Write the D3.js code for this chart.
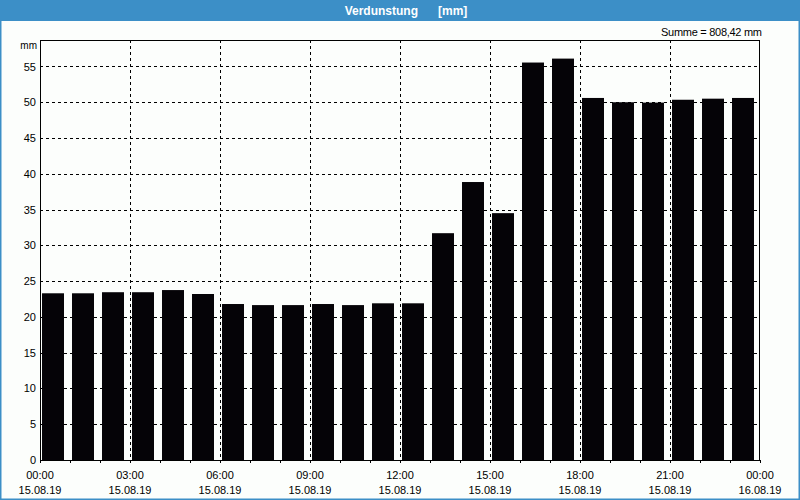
<!DOCTYPE html>
<html><head><meta charset="utf-8">
<script src="https://cdn.jsdelivr.net/npm/d3@7"></script>
<style>
html,body{margin:0;padding:0;background:#fff;}
svg{display:block;}
text{font-family:"Liberation Sans",Arial,sans-serif;}
</style></head>
<body>
<script>
const title = "Verdunstung      [mm]";
const unitLabel = "mm";
const sumLabel = "Summe = 808,42 mm";
const hours = d3.range(24);
const values = [23.3,23.3,23.45,23.45,23.75,23.2,21.8,21.65,21.65,21.8,21.65,21.9,21.9,
                31.7,38.85,34.5,55.55,56.1,50.6,50.0,49.95,50.35,50.5,50.6];
const yTicks = [0,5,10,15,20,25,30,35,40,45,50,55];
const yMax = 58.7;
const labelHours = [0,3,6,9,12,15,18,21,24];

const W=800,H=500;
const m={l:40,r:40,t:40,b:40};
const svg=d3.select("body").append("svg").attr("width",W).attr("height",H);
svg.append("rect").attr("width",W).attr("height",H).attr("fill","#fcfefc");
// frame
svg.append("rect").attr("x",0.75).attr("y",0).attr("width",W-1.5).attr("height",H-0.75)
  .attr("fill","none").attr("stroke","#3c8fc7").attr("stroke-width",1.5);
svg.append("rect").attr("x",0).attr("y",0).attr("width",W).attr("height",21).attr("fill","#3c8fc7");
svg.append("text").attr("x",W/2+6).attr("y",15).attr("text-anchor","middle")
  .attr("fill","#fff").attr("font-weight","bold").attr("font-size",12).attr("xml:space","preserve").text(title);

const t0=new Date(2019,7,15,0,0);
const hd=h=>new Date(t0.getTime()+h*3600000);
const x=d3.scaleTime().domain([hd(0),hd(24)]).range([m.l,W-m.r]);
const y=d3.scaleLinear().domain([0,yMax]).range([H-m.b,m.t]);

const g=svg.append("g");
// grid
g.selectAll(".hg").data(yTicks.filter(v=>v>0)).join("line")
  .attr("x1",m.l).attr("x2",W-m.r).attr("y1",d=>Math.round(y(d))+0.5).attr("y2",d=>Math.round(y(d))+0.5)
  .attr("stroke","#000").attr("stroke-dasharray","3,3");
g.selectAll(".vg").data(labelHours.slice(1,-1)).join("line")
  .attr("y1",m.t).attr("y2",H-m.b).attr("x1",d=>Math.round(x(hd(d)))+0.5).attr("x2",d=>Math.round(x(hd(d)))+0.5)
  .attr("stroke","#000").attr("stroke-dasharray","3,3");

// bars
const step=x(hd(1))-x(hd(0));
g.selectAll(".bar").data(values).join("rect")
  .attr("x",(d,i)=>x(hd(hours[i]))+step*0.067)
  .attr("width",step*0.733)
  .attr("y",d=>y(d)).attr("height",d=>y(0)-y(d))
  .attr("fill","#050307");

// x axis
const xa=d3.axisBottom(x).tickValues(d3.range(25).map(hd)).tickSize(3).tickFormat("");
const xg=svg.append("g").attr("transform",`translate(0,${H-m.b})`).call(xa);
xg.select(".domain").attr("stroke","#000");
xg.selectAll(".tick line").attr("stroke","#000");
const lab=svg.append("g").selectAll("g").data(labelHours).join("g")
  .attr("transform",d=>`translate(${x(hd(d))},0)`);
lab.append("text").attr("y",479).attr("text-anchor","middle").attr("font-size",11).attr("fill","#000")
  .text(d=>d3.timeFormat("%H:%M")(hd(d)));
lab.append("text").attr("y",494).attr("text-anchor","middle").attr("font-size",11).attr("fill","#000")
  .text(d=>d3.timeFormat("%d.%m.%y")(hd(d)));

// y axis
const ya=d3.axisLeft(y).tickValues(yTicks).tickSize(0).tickPadding(4).tickFormat(d3.format("d"));
const yg=svg.append("g").attr("transform",`translate(${m.l},0)`).call(ya);
yg.select(".domain").remove();
yg.selectAll("text").attr("font-size",11).attr("fill","#000").attr("font-family","Liberation Sans, Arial, sans-serif");

// frame of plot
svg.append("rect").attr("x",m.l+0.5).attr("y",m.t+0.5).attr("width",W-m.l-m.r-1).attr("height",H-m.t-m.b)
  .attr("fill","none").attr("stroke","#000");

svg.append("text").attr("x",m.l-3).attr("y",49).attr("text-anchor","end").attr("font-size",10).text(unitLabel);
svg.append("text").attr("x",762).attr("y",36).attr("text-anchor","end").attr("font-size",11).attr("textLength",101).text(sumLabel);
</script>
</body></html>
